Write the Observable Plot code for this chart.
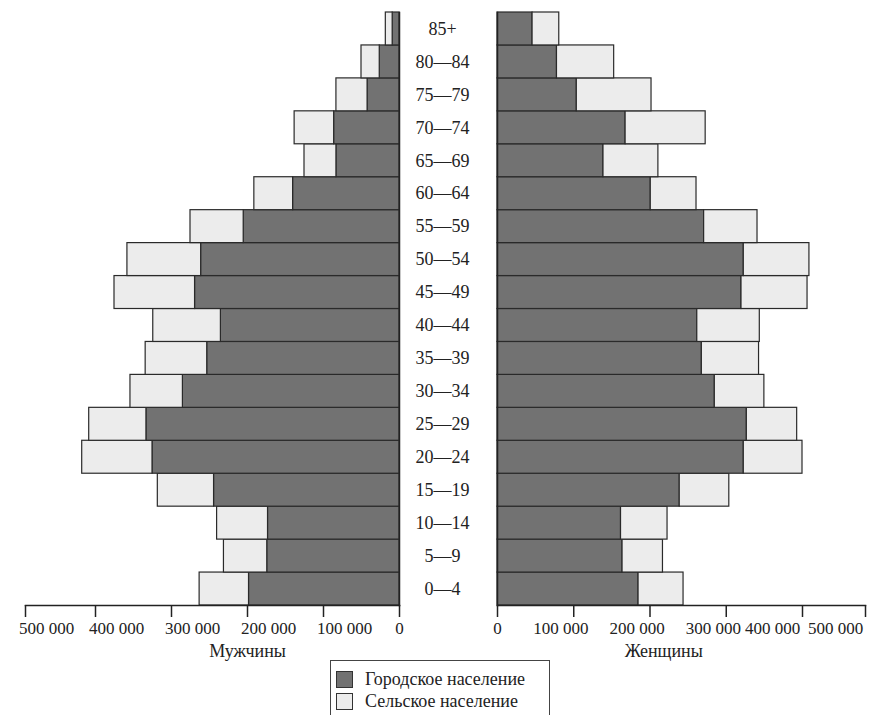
<!DOCTYPE html>
<html>
<head>
<meta charset="utf-8">
<script src="https://cdn.jsdelivr.net/npm/d3@7"></script>
<script src="https://cdn.jsdelivr.net/npm/@observablehq/plot@0.6"></script>
<style>
  html, body { margin: 0; padding: 0; background: #fff; }
  #wrap { position: relative; width: 888px; height: 715px; overflow: hidden; font-family: "Liberation Serif", "DejaVu Serif", serif; color: #222; }
  #left { position: absolute; left: 0; top: 0; }
  #right { position: absolute; left: 400px; top: 0; }
  #legend { position: absolute; left: 330px; top: 660px; width: 220px; height: 70px; border: 1.5px solid #444; box-sizing: border-box; background: #fff; font-size: 18px; }
  .item { position: absolute; left: 5px; display: flex; align-items: center; }
  .sw { width: 17px; height: 17px; border: 1.2px solid #333; box-sizing: border-box; margin-right: 12px; }
</style>
</head>
<body>
<div id="wrap">
  <div id="left"></div>
  <div id="right"></div>
  <div id="legend"></div>
</div>
<script>
const ages = ["0—4","5—9","10—14","15—19","20—24","25—29","30—34","35—39","40—44","45—49","50—54","55—59","60—64","65—69","70—74","75—79","80—84","85+"];
const menUrban   = [198000,174000,173000,244000,325000,333000,285000,253000,235000,269000,261000,205000,140000,83000,86000,42000,26000,9000];
const menRural   = [65000,57000,67000,74000,94000,76000,69000,81000,89000,106000,97000,70000,51000,42000,52000,41000,24000,9000];
const womenUrban = [185000,164000,162000,239000,323000,327000,285000,268000,262000,320000,323000,271000,201000,139000,168000,104000,78000,46000];
const womenRural = [59000,53000,61000,65000,77000,66000,65000,75000,82000,88000,88000,70000,60000,72000,105000,98000,75000,35000];
const tickValues = [0,100000,200000,300000,400000,500000];
const seriesNames = ["Городское население","Сельское население"];
const sexNames = ["Мужчины","Женщины"];

const URBAN = "#727272", RURAL = "#ececec", EDGE = "#2a2a2a";
const FONT = '"Liberation Serif", "DejaVu Serif", serif';
const fmt = d => d === 0 ? "0" : d3.format(",")(d).replace(/,/g, " ");

function rows(urban, rural) {
  const out = [];
  ages.forEach((a, i) => {
    out.push({age: a, type: seriesNames[0], value: urban[i]});
    out.push({age: a, type: seriesNames[1], value: rural[i]});
  });
  return out;
}

const yScale = {domain: ages.slice().reverse(), padding: 0, round: false, axis: null};
const colorScale = {domain: seriesNames, range: [URBAN, RURAL]};

const left = Plot.plot({
  width: 400, height: 680,
  marginLeft: 25, marginRight: 1, marginTop: 12, marginBottom: 75,
  style: {fontFamily: FONT, fontSize: "17px", background: "transparent", color: "#222", overflow: "visible"},
  x: {type: "linear", domain: [0, 400000, 500000], range: [399, 95, 25], axis: null},
  y: yScale,
  color: colorScale,
  marks: [
    Plot.barX(rows(menUrban, menRural), {x: "value", y: "age", fill: "type", stroke: EDGE, strokeWidth: 1.2}),
    Plot.frame({anchor: "bottom", stroke: "#222", strokeWidth: 1.5}),
    Plot.frame({anchor: "right", stroke: "#222", strokeWidth: 1.5}),
    Plot.axisX({ticks: tickValues, tickSize: 12, fill: "none", stroke: "#222", strokeWidth: 1.5, label: null}),
    Plot.text(tickValues.filter(d => d > 0), {x: d => d, text: fmt, frameAnchor: "bottom", dy: 28, dx: 21, fontSize: 17, fill: "#222"}),
    Plot.text([0], {x: d => d, text: fmt, frameAnchor: "bottom", dy: 28, fontSize: 17, fill: "#222"}),
    Plot.text([sexNames[0]], {x: () => 200000, text: d => d, frameAnchor: "bottom", dy: 51, fontSize: 18, fill: "#222"})
  ]
});

const right = Plot.plot({
  width: 488, height: 680,
  marginLeft: 97, marginRight: 23, marginTop: 12, marginBottom: 75,
  style: {fontFamily: FONT, fontSize: "17px", background: "transparent", color: "#222", overflow: "visible"},
  x: {type: "linear", domain: [0, 400000, 500000], range: [97, 402, 465], axis: null},
  y: yScale,
  color: colorScale,
  marks: [
    Plot.barX(rows(womenUrban, womenRural), {x: "value", y: "age", fill: "type", stroke: EDGE, strokeWidth: 1.2}),
    Plot.frame({anchor: "bottom", stroke: "#222", strokeWidth: 1.5}),
    Plot.frame({anchor: "left", stroke: "#222", strokeWidth: 1.5}),
    Plot.axisX({ticks: tickValues, tickSize: 12, fill: "none", stroke: "#222", strokeWidth: 1.5, label: null}),
    Plot.text([0], {x: d => d, text: fmt, frameAnchor: "bottom", dy: 28, fontSize: 17, fill: "#222"}),
    Plot.text(tickValues.filter(d => d > 0 && d < 400000), {x: d => d, text: fmt, frameAnchor: "bottom", dy: 28, dx: -13, fontSize: 17, fill: "#222"}),
    Plot.text(tickValues.filter(d => d >= 400000), {x: d => d, text: fmt, frameAnchor: "bottom", dy: 28, dx: -30, fontSize: 17, fill: "#222"}),
    Plot.text([sexNames[1]], {x: () => 218000, text: d => d, frameAnchor: "bottom", dy: 51, fontSize: 18, fill: "#222"}),
    Plot.text(ages, {y: d => d, x: () => 0, dx: -55, text: d => d, textAnchor: "middle", fontSize: 18, fill: "#222"})
  ]
});

document.getElementById("left").appendChild(left);
document.getElementById("right").appendChild(right);

const legend = document.getElementById("legend");
seriesNames.forEach((name, i) => {
  const it = document.createElement("div");
  it.className = "item";
  it.style.top = (i === 0 ? 8 : 30) + "px";
  const sw = document.createElement("div");
  sw.className = "sw";
  sw.style.background = colorScale.range[i];
  const tx = document.createElement("span");
  tx.textContent = name;
  it.appendChild(sw); it.appendChild(tx);
  legend.appendChild(it);
});
</script>
</body>
</html>
